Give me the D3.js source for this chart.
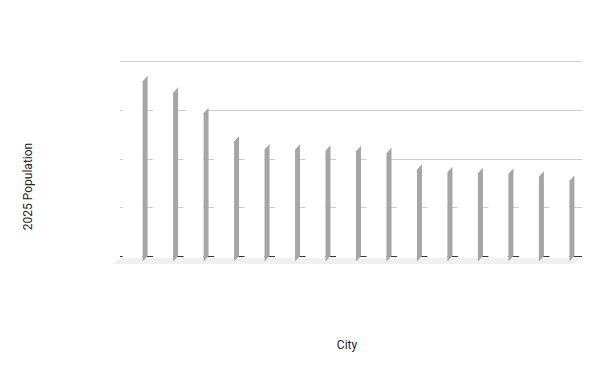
<!DOCTYPE html>
<html>
<head>
<meta charset="utf-8">
<script src="https://cdn.jsdelivr.net/npm/d3@7"></script>
<style>
  html, body { margin: 0; padding: 0; background: #ffffff; }
  svg { display: block; }
</style>
</head>
<body>
<div id="chart"></div>
<script>
// ---- data ----
const cities = ["Tokyo", "Delhi", "Shanghai", "Dhaka", "São Paulo", "Cairo", "Mexico City",
  "Beijing", "Mumbai", "Osaka", "Chongqing", "Karachi", "Kinshasa", "Lagos", "Istanbul"];
const population = [37.0, 34.6, 30.4, 24.6, 23.0, 22.9, 22.7, 22.6, 22.2, 18.8, 18.3, 18.1, 18.0, 17.4, 16.5];
const yTicks = [0, 10, 20, 30, 40];
const xTitle = "City";
const yTitle = "2025 Population";

// ---- layout ----
const W = 600, H = 371;
const depthX = 5, depthY = 5.5;
const backLeft = 120, backRight = 582, backBase = 256, backTop = 61;
const floorTop = backBase + 2;

const svg = d3.select("#chart").append("svg").attr("width", W).attr("height", H);

const y = d3.scaleLinear().domain([0, 40]).range([backBase, backTop]);
const x = d3.scaleBand().domain(cities)
  .range([backLeft - depthX, backRight - depthX])
  .paddingInner(0.344).paddingOuter(0.25);

// floor
svg.append("path")
  .attr("d", d3.line()([[backLeft + 0.5, floorTop], [backRight, floorTop],
                        [backRight - 9, backBase + 8], [backLeft - 7.5, backBase + 8]]) + "Z")
  .attr("fill", "#f0f0f0");

// back-wall gridlines via axis
const grid = svg.append("g").attr("transform", `translate(${backLeft},0)`)
  .call(d3.axisLeft(y).tickValues(yTicks).tickFormat("").tickSizeInner(-(backRight - backLeft)).tickSizeOuter(0));
grid.select(".domain").remove();
grid.selectAll(".tick line")
  .attr("stroke", d => d === 0 ? "#333333" : "#cccccc")
  .attr("stroke-width", 1)
  .attr("shape-rendering", "crispEdges");

// bars
const bars = svg.append("g").selectAll("g").data(population).join("g");
bars.each(function(v, i) {
  const g = d3.select(this);
  const xl = x(cities[i]), xr = xl + x.bandwidth();
  const yt = y(v) + depthY, yb = y(0) + depthY;
  // front face (white), stops at the floor
  g.append("rect").attr("x", xl).attr("y", yt).attr("width", xr - xl).attr("height", floorTop - yt)
    .attr("fill", "#ffffff");
  // top face
  g.append("path")
    .attr("d", d3.line()([[xl, yt], [xr, yt], [xr + depthX, yt - depthY], [xl + depthX, yt - depthY]]) + "Z")
    .attr("fill", "#ffffff");
  // side face (gray)
  g.append("path")
    .attr("d", d3.line()([[xr, yt], [xr + depthX, yt - depthY], [xr + depthX, yb - depthY], [xr, yb]]) + "Z")
    .attr("fill", "#a6a6a6");
});

// titles
svg.append("text")
  .attr("x", 347).attr("y", 349)
  .attr("text-anchor", "middle")
  .attr("font-family", "Roboto, sans-serif").attr("font-size", 12)
  .attr("fill", "#222222")
  .text(xTitle);

svg.append("text")
  .attr("transform", "translate(32,186.5) rotate(-90)")
  .attr("text-anchor", "middle")
  .attr("font-family", "Roboto, sans-serif").attr("font-size", 12)
  .attr("fill", "#222222")
  .text(yTitle);
</script>
</body>
</html>
